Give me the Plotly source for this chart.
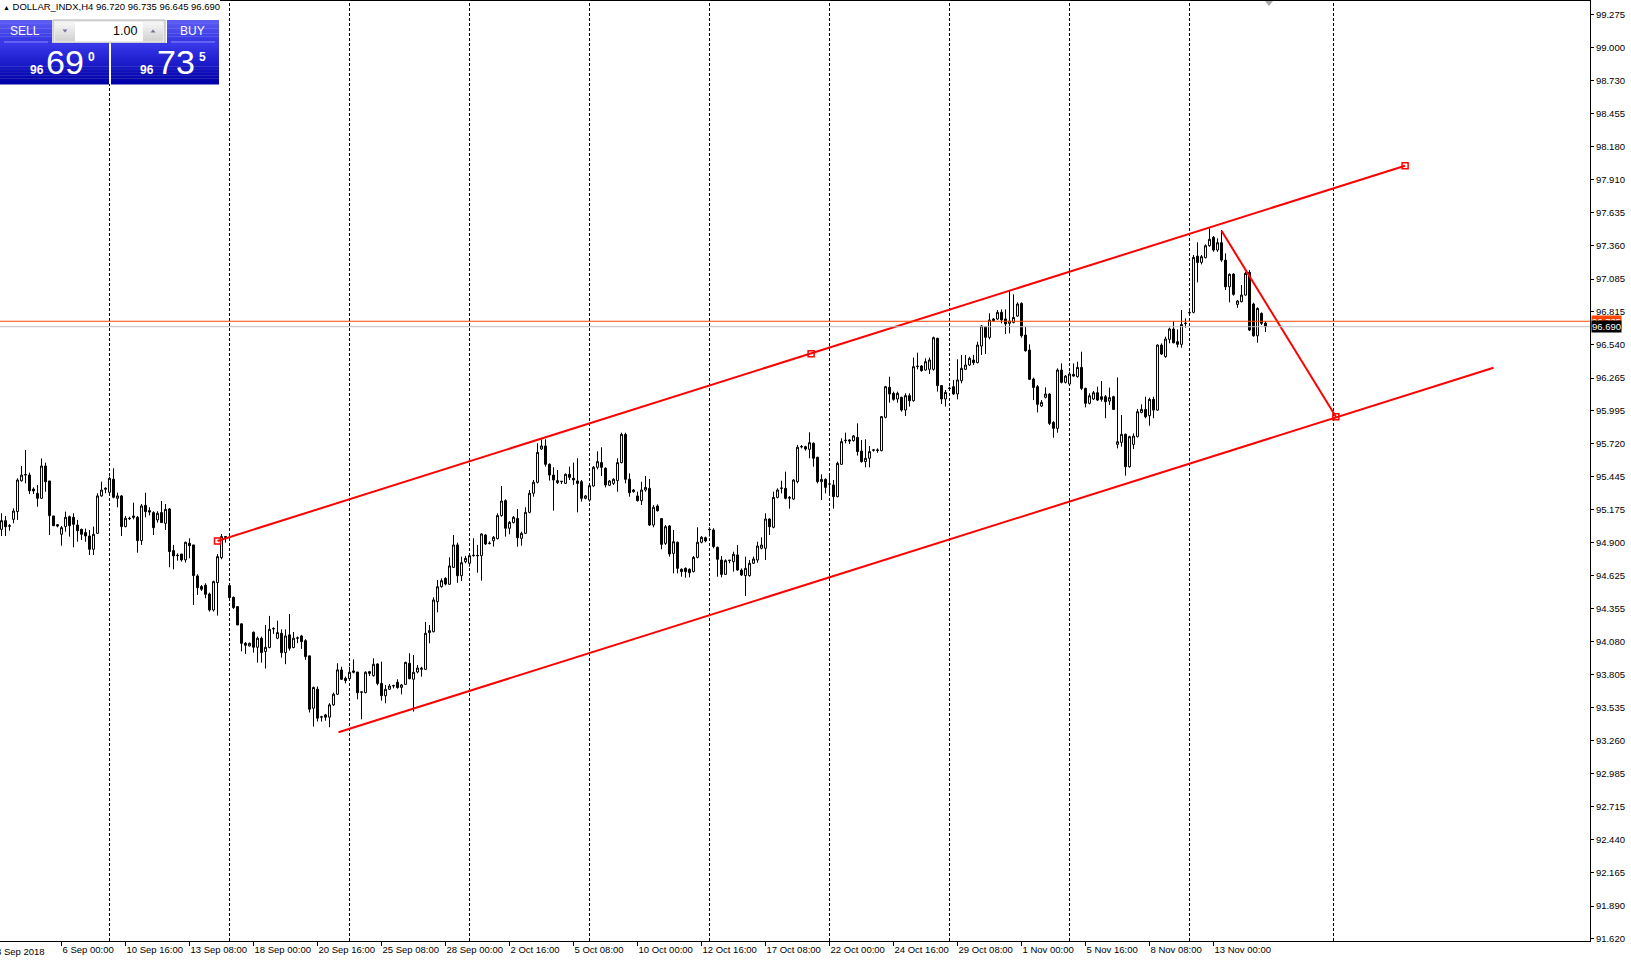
import plotly.graph_objects as go

# ---------------- data (DOLLAR_INDX, H4) ----------------
opens = [
    95.011, 95.083, 95.041, 95.094, 95.158, 95.414, 95.461, 95.461, 95.345, 95.310,
    95.268, 95.536, 95.412, 95.122, 95.050, 94.970, 95.034, 95.116, 95.111, 95.047,
    95.011, 94.984, 94.956, 94.846, 94.978, 95.288, 95.343, 95.318, 95.426, 95.268,
    95.288, 95.034, 95.103, 95.122, 95.111, 94.918, 95.210, 95.166, 95.150, 95.089,
    95.150, 95.061, 95.180, 94.835, 94.797, 94.807, 94.758, 94.896, 94.882, 94.625,
    94.537, 94.548, 94.476, 94.343, 94.570, 94.777, 94.951, 94.545, 94.448, 94.371,
    94.228, 94.067, 94.045, 94.159, 94.034, 94.109, 93.999, 94.032, 94.186, 94.109,
    94.150, 93.990, 94.137, 94.032, 94.109, 94.128, 94.089, 93.963, 93.529, 93.687,
    93.455, 93.474, 93.455, 93.557, 93.645, 93.846, 93.777, 93.774, 93.838, 93.829,
    93.661, 93.658, 93.832, 93.799, 93.896, 93.735, 93.633, 93.686, 93.713, 93.744,
    93.702, 93.727, 93.901, 93.769, 93.829, 93.851, 93.851, 94.155, 94.163, 94.412,
    94.536, 94.605, 94.556, 94.696, 94.882, 94.627, 94.743, 94.730, 94.793, 94.796,
    94.793, 94.964, 94.893, 94.917, 94.934, 95.125, 95.249, 95.020, 95.067, 95.102,
    94.937, 94.978, 95.152, 95.310, 95.401, 95.677, 95.702, 95.550, 95.461, 95.398,
    95.406, 95.392, 95.467, 95.434, 95.412, 95.406, 95.268, 95.254, 95.370, 95.525,
    95.564, 95.517, 95.376, 95.392, 95.415, 95.564, 95.798, 95.426, 95.323, 95.288,
    95.249, 95.337, 95.351, 95.047, 95.205, 95.100, 94.895, 95.039, 94.812, 94.904,
    94.680, 94.688, 94.680, 94.661, 94.779, 94.904, 94.942, 95.008, 95.006, 94.862,
    94.757, 94.638, 94.752, 94.743, 94.799, 94.674, 94.628, 94.628, 94.730, 94.757,
    94.854, 94.854, 95.097, 95.028, 95.276, 95.351, 95.351, 95.276, 95.262, 95.406,
    95.694, 95.696, 95.674, 95.724, 95.608, 95.406, 95.425, 95.387, 95.379, 95.282,
    95.550, 95.746, 95.752, 95.746, 95.773, 95.660, 95.572, 95.600, 95.667, 95.669,
    95.663, 95.939, 96.188, 96.138, 96.091, 96.105, 96.000, 96.119, 96.077, 96.359,
    96.365, 96.331, 96.337, 96.337, 96.594, 96.202, 96.091, 96.177, 96.193, 96.133,
    96.243, 96.337, 96.373, 96.414, 96.392, 96.530, 96.690, 96.602, 96.754, 96.754,
    96.809, 96.754, 96.718, 96.726, 96.778, 96.883, 96.621, 96.497, 96.256, 96.193,
    96.033, 96.105, 96.132, 95.897, 95.848, 96.331, 96.229, 96.215, 96.295, 96.276,
    96.353, 96.179, 96.055, 96.091, 96.143, 96.110, 96.110, 96.074, 96.110, 95.715,
    95.732, 95.798, 95.530, 95.715, 95.779, 95.980, 96.005, 95.953, 96.088, 95.999,
    96.538, 96.442, 96.585, 96.671, 96.566, 96.544, 96.715, 96.806, 96.809, 97.275,
    97.223, 97.262, 97.361, 97.430, 97.325, 97.386, 97.242, 97.021, 97.126, 96.875,
    96.897, 96.952, 97.140, 96.878, 96.615, 96.800, 96.720,
]
highs = [
    95.144, 95.122, 95.055, 95.185, 95.434, 95.536, 95.668, 95.481, 95.359, 95.378,
    95.599, 95.564, 95.412, 95.122, 95.055, 95.039, 95.158, 95.125, 95.144, 95.089,
    95.017, 95.017, 95.006, 95.034, 95.310, 95.406, 95.359, 95.448, 95.517, 95.315,
    95.296, 95.122, 95.116, 95.232, 95.122, 95.221, 95.315, 95.194, 95.161, 95.161,
    95.246, 95.221, 95.188, 94.882, 94.813, 94.807, 94.909, 94.937, 94.882, 94.639,
    94.550, 94.564, 94.487, 94.586, 94.807, 94.973, 94.956, 94.564, 94.454, 94.371,
    94.233, 94.078, 94.073, 94.164, 94.123, 94.123, 94.219, 94.294, 94.200, 94.255,
    94.183, 94.183, 94.310, 94.161, 94.123, 94.137, 94.101, 93.963, 93.709, 93.709,
    93.466, 93.482, 93.571, 93.659, 93.902, 93.873, 93.791, 93.873, 93.934, 93.829,
    93.664, 93.835, 93.838, 93.943, 93.901, 93.915, 93.722, 93.730, 93.724, 93.769,
    93.730, 93.915, 93.984, 93.970, 93.887, 93.873, 94.244, 94.219, 94.448, 94.592,
    94.605, 94.614, 94.779, 94.964, 94.901, 94.785, 94.790, 94.812, 94.937, 94.882,
    94.978, 94.973, 94.912, 94.956, 95.144, 95.370, 95.260, 95.080, 95.122, 95.180,
    94.992, 95.194, 95.337, 95.420, 95.724, 95.757, 95.757, 95.558, 95.525, 95.503,
    95.412, 95.475, 95.531, 95.564, 95.600, 95.420, 95.296, 95.384, 95.536, 95.658,
    95.691, 95.525, 95.420, 95.434, 95.600, 95.812, 95.812, 95.475, 95.345, 95.323,
    95.406, 95.453, 95.428, 95.213, 95.218, 95.105, 95.047, 95.047, 95.006, 94.909,
    94.688, 94.696, 94.688, 94.790, 95.028, 94.956, 94.951, 95.028, 95.020, 94.868,
    94.790, 94.763, 94.757, 94.826, 94.881, 94.688, 94.785, 94.757, 94.785, 94.909,
    94.945, 95.144, 95.102, 95.323, 95.351, 95.414, 95.489, 95.287, 95.426, 95.710,
    95.710, 95.704, 95.815, 95.732, 95.613, 95.467, 95.434, 95.467, 95.420, 95.572,
    95.765, 95.812, 95.757, 95.793, 95.889, 95.751, 95.757, 95.702, 95.674, 95.682,
    95.950, 96.199, 96.276, 96.152, 96.152, 96.110, 96.138, 96.138, 96.434, 96.475,
    96.373, 96.428, 96.434, 96.608, 96.599, 96.207, 96.166, 96.193, 96.249, 96.420,
    96.456, 96.456, 96.442, 96.456, 96.566, 96.704, 96.696, 96.801, 96.762, 96.828,
    96.834, 96.834, 96.994, 96.958, 96.892, 96.892, 96.690, 96.544, 96.268, 96.207,
    96.082, 96.187, 96.138, 95.908, 96.345, 96.386, 96.290, 96.317, 96.386, 96.400,
    96.483, 96.185, 96.138, 96.157, 96.193, 96.240, 96.124, 96.185, 96.118, 96.270,
    95.958, 95.806, 95.787, 95.806, 96.008, 96.047, 96.110, 96.102, 96.110, 96.544,
    96.552, 96.607, 96.682, 96.737, 96.668, 96.828, 96.759, 96.820, 97.284, 97.389,
    97.284, 97.372, 97.505, 97.441, 97.422, 97.491, 97.298, 97.132, 97.132, 96.911,
    97.035, 97.146, 97.159, 96.889, 96.850, 96.809, 96.735,
]
lows = [
    94.956, 94.956, 95.000, 95.061, 95.089, 95.406, 95.392, 95.304, 95.304, 95.199,
    95.268, 95.323, 94.964, 95.041, 95.028, 94.876, 94.992, 94.951, 94.862, 94.909,
    94.923, 94.909, 94.799, 94.799, 94.973, 95.282, 95.310, 95.310, 95.268, 95.194,
    94.956, 95.028, 95.089, 95.094, 94.818, 94.882, 95.111, 95.127, 94.964, 95.067,
    95.067, 95.006, 94.697, 94.680, 94.752, 94.744, 94.736, 94.771, 94.385, 94.468,
    94.501, 94.440, 94.330, 94.330, 94.297, 94.763, 94.901, 94.440, 94.352, 94.219,
    94.000, 93.979, 94.040, 93.990, 93.907, 93.907, 93.858, 94.026, 94.145, 94.101,
    93.949, 93.894, 94.007, 94.026, 94.068, 94.021, 93.930, 93.494, 93.377, 93.419,
    93.419, 93.425, 93.372, 93.549, 93.640, 93.763, 93.735, 93.769, 93.818, 93.603,
    93.437, 93.653, 93.796, 93.791, 93.719, 93.592, 93.570, 93.680, 93.694, 93.691,
    93.644, 93.722, 93.769, 93.501, 93.818, 93.791, 93.846, 94.067, 94.158, 94.324,
    94.528, 94.547, 94.550, 94.691, 94.569, 94.583, 94.730, 94.702, 94.785, 94.652,
    94.586, 94.882, 94.887, 94.868, 94.928, 95.116, 94.951, 94.970, 95.061, 94.868,
    94.876, 94.973, 95.144, 95.282, 95.392, 95.669, 95.531, 95.415, 95.166, 95.387,
    95.387, 95.387, 95.420, 95.379, 95.152, 95.241, 95.260, 95.241, 95.365, 95.508,
    95.453, 95.359, 95.370, 95.379, 95.323, 95.558, 95.392, 95.282, 95.315, 95.241,
    95.213, 95.323, 95.039, 95.028, 95.158, 94.846, 94.882, 94.785, 94.647, 94.647,
    94.619, 94.611, 94.614, 94.655, 94.771, 94.895, 94.904, 94.951, 94.854, 94.619,
    94.614, 94.633, 94.730, 94.661, 94.669, 94.625, 94.459, 94.619, 94.724, 94.735,
    94.846, 94.757, 94.964, 95.020, 95.268, 95.309, 95.260, 95.182, 95.254, 95.392,
    95.682, 95.663, 95.600, 95.530, 95.392, 95.254, 95.309, 95.309, 95.182, 95.276,
    95.544, 95.724, 95.718, 95.738, 95.622, 95.564, 95.525, 95.525, 95.655, 95.646,
    95.658, 95.931, 96.061, 96.077, 96.061, 95.986, 95.950, 96.028, 96.069, 96.337,
    96.318, 96.326, 96.298, 96.326, 96.152, 96.050, 96.028, 96.166, 96.124, 96.088,
    96.221, 96.331, 96.365, 96.373, 96.387, 96.456, 96.464, 96.585, 96.732, 96.746,
    96.718, 96.630, 96.635, 96.718, 96.773, 96.599, 96.483, 96.248, 96.082, 95.980,
    96.024, 96.096, 95.875, 95.770, 95.812, 96.220, 96.220, 96.207, 96.276, 96.268,
    96.165, 96.022, 96.047, 96.082, 96.074, 96.069, 95.931, 96.041, 96.000, 95.682,
    95.696, 95.456, 95.522, 95.676, 95.773, 95.972, 95.931, 95.870, 95.931, 95.994,
    96.455, 96.433, 96.552, 96.552, 96.519, 96.516, 96.682, 96.792, 96.800, 97.057,
    97.206, 97.256, 97.353, 97.311, 97.311, 97.228, 96.994, 96.892, 96.947, 96.847,
    96.892, 96.947, 96.654, 96.607, 96.557, 96.704, 96.645,
]
closes = [
    95.083, 95.033, 95.038, 95.163, 95.420, 95.461, 95.465, 95.331, 95.329, 95.268,
    95.536, 95.406, 95.125, 95.041, 95.039, 95.025, 95.111, 95.042, 95.053, 95.000,
    94.970, 94.956, 94.846, 94.970, 95.288, 95.337, 95.351, 95.434, 95.277, 95.288,
    95.034, 95.103, 95.100, 95.111, 94.918, 95.205, 95.158, 95.155, 95.025, 95.144,
    95.067, 95.177, 94.827, 94.791, 94.794, 94.758, 94.904, 94.876, 94.628, 94.528,
    94.515, 94.473, 94.343, 94.578, 94.785, 94.951, 94.945, 94.446, 94.363, 94.219,
    94.067, 94.051, 94.067, 94.034, 94.109, 93.990, 94.034, 94.183, 94.189, 94.156,
    93.990, 94.128, 94.026, 94.109, 94.112, 94.081, 93.957, 93.521, 93.701, 93.447,
    93.458, 93.455, 93.557, 93.645, 93.847, 93.769, 93.758, 93.827, 93.827, 93.658,
    93.664, 93.827, 93.818, 93.893, 93.735, 93.633, 93.686, 93.713, 93.716, 93.700,
    93.722, 93.909, 93.774, 93.827, 93.862, 93.860, 94.150, 94.172, 94.426, 94.536,
    94.586, 94.558, 94.708, 94.882, 94.627, 94.735, 94.771, 94.793, 94.796, 94.793,
    94.973, 94.890, 94.896, 94.945, 95.125, 95.246, 95.020, 95.069, 95.111, 94.942,
    94.978, 95.152, 95.310, 95.401, 95.649, 95.702, 95.550, 95.461, 95.420, 95.415,
    95.409, 95.467, 95.442, 95.420, 95.392, 95.268, 95.288, 95.373, 95.525, 95.572,
    95.525, 95.379, 95.412, 95.426, 95.564, 95.798, 95.426, 95.315, 95.337, 95.249,
    95.337, 95.359, 95.047, 95.194, 95.166, 94.887, 95.033, 94.807, 94.909, 94.688,
    94.661, 94.661, 94.652, 94.779, 94.904, 94.945, 94.915, 95.011, 94.868, 94.763,
    94.638, 94.752, 94.755, 94.804, 94.674, 94.633, 94.688, 94.730, 94.765, 94.873,
    94.881, 95.097, 95.033, 95.276, 95.337, 95.353, 95.268, 95.270, 95.420, 95.691,
    95.697, 95.677, 95.729, 95.600, 95.406, 95.425, 95.359, 95.387, 95.282, 95.558,
    95.738, 95.749, 95.743, 95.785, 95.655, 95.572, 95.600, 95.655, 95.669, 95.666,
    95.945, 96.193, 96.133, 96.088, 96.138, 96.000, 96.119, 96.077, 96.359, 96.362,
    96.326, 96.400, 96.414, 96.599, 96.202, 96.091, 96.146, 96.180, 96.133, 96.249,
    96.345, 96.373, 96.428, 96.392, 96.538, 96.696, 96.602, 96.746, 96.740, 96.809,
    96.746, 96.713, 96.737, 96.767, 96.878, 96.615, 96.491, 96.254, 96.187, 96.047,
    96.063, 96.132, 95.889, 95.848, 96.331, 96.229, 96.281, 96.298, 96.281, 96.353,
    96.179, 96.055, 96.118, 96.143, 96.082, 96.088, 96.069, 96.102, 96.005, 95.737,
    95.798, 95.530, 95.779, 95.784, 95.986, 96.005, 95.944, 96.088, 95.999, 96.538,
    96.464, 96.588, 96.671, 96.557, 96.544, 96.709, 96.718, 96.806, 97.264, 97.223,
    97.270, 97.361, 97.414, 97.325, 97.386, 97.242, 97.021, 97.124, 96.958, 96.903,
    96.952, 97.132, 96.662, 96.615, 96.842, 96.718, 96.690,
]
assert len(opens) == len(highs) == len(lows) == len(closes)
bars = list(range(len(closes)))

# bar index -> time label on the time scale
date_tick_bars = [15, 31, 47, 63, 79, 95, 111, 127, 143, 159, 175, 191, 207, 223, 239, 255, 271, 287, 303]
date_tick_labels = ["6 Sep 00:00", "10 Sep 16:00", "13 Sep 08:00", "18 Sep 00:00", "20 Sep 16:00",
                    "25 Sep 08:00", "28 Sep 00:00", "2 Oct 16:00", "5 Oct 08:00", "10 Oct 00:00",
                    "12 Oct 16:00", "17 Oct 08:00", "22 Oct 00:00", "24 Oct 16:00", "29 Oct 08:00",
                    "1 Nov 00:00", "5 Nov 16:00", "8 Nov 08:00", "13 Nov 00:00"]
first_date_label = "3 Sep 2018"
week_grid_bars = [27, 57, 87, 117, 147, 177, 207, 237, 267, 297, 333]

price_tick_labels = ["99.275", "99.000", "98.730", "98.455", "98.180", "97.910", "97.635", "97.360",
                     "97.085", "96.815", "96.540", "96.265", "95.995", "95.720", "95.445", "95.175",
                     "94.900", "94.625", "94.355", "94.080", "93.805", "93.535", "93.260", "92.985",
                     "92.715", "92.440", "92.165", "91.890", "91.620"]

# drawn objects (bar index, price)
channel_top_x = [54, 202.4, 350.9]
channel_top_y = [94.915, 96.467, 98.024]
channel_bot_x = [84.25, 373.0]
channel_bot_y = [93.33, 96.35]
trend_x = [305, 333.6]
trend_y = [97.485, 95.944]

bid_price = 96.690
ask_price = 96.735
symbol_header = "DOLLAR_INDX,H4 96.720 96.735 96.645 96.690"

# ---------------- layout helpers ----------------
PLOT_W, PLOT_H, TOP = 1590, 940, 1
FONT = "Liberation Sans"


def px(x):
    return x / PLOT_W


def py(y):
    return 1 - (y - TOP) / PLOT_H


def mix(c1, c2, t):
    a = [int(c1[i:i + 2], 16) for i in (1, 3, 5)]
    b = [int(c2[i:i + 2], 16) for i in (1, 3, 5)]
    return "#" + "".join(f"{round(a[k] + (b[k] - a[k]) * t):02x}" for k in range(3))


shapes = []


def rect(x0, y0, x1, y1, fill, line=None):
    shapes.append(dict(type="rect", xref="paper", yref="paper", layer="above",
                       x0=px(x0), x1=px(x1), y0=py(y1), y1=py(y0), fillcolor=fill,
                       line=dict(width=1 if line else 0, color=line or fill)))


def grad_box(x0, y0, x1, y1, c_top, c_bot, steps=14):
    h = (y1 - y0) / steps
    for k in range(steps):
        rect(x0, y0 + k * h, x1, y0 + (k + 1) * h + 0.4, mix(c_top, c_bot, k / (steps - 1)))


def tri(cx, cy, w, h, color, up=True):
    if up:
        p = f"M {px(cx - w / 2)},{py(cy + h / 2)} L {px(cx + w / 2)},{py(cy + h / 2)} L {px(cx)},{py(cy - h / 2)} Z"
    else:
        p = f"M {px(cx - w / 2)},{py(cy - h / 2)} L {px(cx + w / 2)},{py(cy - h / 2)} L {px(cx)},{py(cy + h / 2)} Z"
    shapes.append(dict(type="path", xref="paper", yref="paper", layer="above", path=p,
                       fillcolor=color, line=dict(width=0)))


annotations = []


def text(x, y, s, size, color="black", anchor="center", bold=False, **kw):
    annotations.append(dict(xref="paper", yref="paper", x=px(x), y=py(y), text=f"<b>{s}</b>" if bold else s,
                            showarrow=False, xanchor=anchor, yanchor="middle",
                            font=dict(family=FONT, size=size, color=color), **kw))


# ---------------- figure ----------------
fig = go.Figure()

fig.add_trace(go.Candlestick(
    x=bars, open=opens, high=highs, low=lows, close=closes,
    increasing=dict(fillcolor="white", line=dict(color="black", width=1)),
    decreasing=dict(fillcolor="black", line=dict(color="black", width=1)),
    whiskerwidth=0, showlegend=False, hoverinfo="skip",
))

# equidistant channel and trend line
fig.add_trace(go.Scatter(x=[channel_top_x[0], channel_top_x[-1]], y=[channel_top_y[0], channel_top_y[-1]],
                         mode="lines", line=dict(color="#ff0000", width=2), showlegend=False, hoverinfo="skip"))
fig.add_trace(go.Scatter(x=channel_bot_x, y=channel_bot_y, mode="lines",
                         line=dict(color="#ff0000", width=2), showlegend=False, hoverinfo="skip"))
fig.add_trace(go.Scatter(x=trend_x, y=trend_y, mode="lines",
                         line=dict(color="#ff0000", width=2), showlegend=False, hoverinfo="skip"))
fig.add_trace(go.Scatter(x=channel_top_x + [trend_x[-1]], y=channel_top_y + [trend_y[-1]], mode="markers",
                         marker=dict(symbol="square-open", size=6, color="#ff0000", line=dict(width=1.5)),
                         showlegend=False, hoverinfo="skip"))

# weekly grid
for b in week_grid_bars:
    fig.add_vline(x=b, line=dict(color="black", width=1, dash="3px,2px"), layer="below")

# bid / ask lines
fig.add_hline(y=ask_price, line=dict(color="#ff4500", width=1))
fig.add_hline(y=bid_price, line=dict(color="#c0c0c0", width=1))

# header + one click trading panel
rect(0, 0, 220, 84, "white")
text(1, 7, f"<span style='font-size:7px'>▲</span> {symbol_header}", 9.5, anchor="left")

grad_box(0, 20, 52, 43, "#5c5cf4", "#3434e2")
grad_box(167, 20, 219, 43, "#5c5cf4", "#3434e2")
rect(4, 41.5, 48, 42.5, "#8c8cff")
rect(171, 41.5, 215, 42.5, "#8c8cff")
text(25, 31, "SELL", 12, "white")
text(192, 31, "BUY", 12, "white")

rect(53, 20, 165, 43, "#ececec", "#b0b0b0")
grad_box(55, 22, 75, 41, "#f4f4f4", "#d4d4d4", steps=6)
rect(75, 22, 143, 41, "white")
grad_box(143, 22, 163, 41, "#f4f4f4", "#d4d4d4", steps=6)
tri(65, 31, 5, 3, "#7070a0", up=False)
tri(153, 31, 5, 3, "#7070a0", up=True)
text(139, 31, "1.00", 12.5, anchor="right")

grad_box(0, 43, 109, 84, "#3838ea", "#0000a8")
grad_box(111, 43, 219, 84, "#3838ea", "#0000a8")
text(37, 70, "96", 12, "white", bold=True)
text(65, 62, "69", 34, "white")
text(91, 57, "0", 12, "white", bold=True)
text(147, 70, "96", 12, "white", bold=True)
text(176, 62, "73", 34, "white")
text(202, 57, "5", 12, "white", bold=True)

# chart shift marker
tri(1269, 3.5, 8, 5, "#a8a8a8", up=False)

# first (cut) date label
annotations.append(dict(xref="paper", yref="paper", x=px(-6), y=0, yshift=-10, text=first_date_label,
                        showarrow=False, xanchor="left", yanchor="middle",
                        font=dict(family=FONT, size=9.5, color="black")))

# current price labels on the price scale
for price, bg in ((ask_price, "#ff4500"), (bid_price, "black")):
    annotations.append(dict(xref="paper", yref="y", x=1, y=price, xshift=1, text=f"{price:.3f}",
                            showarrow=False, xanchor="left", yanchor="middle", bgcolor=bg,
                            borderpad=0, font=dict(family=FONT, size=9.5, color="white")))

fig.update_layout(
    width=1631, height=961,
    margin=dict(l=0, r=41, t=TOP, b=20, autoexpand=False),
    paper_bgcolor="white", plot_bgcolor="white",
    shapes=list(fig.layout.shapes) + shapes,
    annotations=annotations,
    showlegend=False,
    xaxis=dict(range=[-0.375, 397.125], tickvals=date_tick_bars, ticktext=date_tick_labels,
               tickangle=0, automargin=False,
               ticks="outside", ticklen=4, tickcolor="black", ticklabelposition="outside right",
               showgrid=False, zeroline=False, showline=True, linecolor="black", linewidth=1,
               mirror=True, rangeslider=dict(visible=False),
               tickfont=dict(family=FONT, size=9.5, color="black")),
    yaxis=dict(range=[91.6006, 99.3885], side="right", automargin=False,
               tickvals=[float(v) for v in price_tick_labels], ticktext=price_tick_labels,
               ticks="outside", ticklen=3, tickcolor="black",
               showgrid=False, zeroline=False, showline=True, linecolor="black", linewidth=1,
               tickfont=dict(family=FONT, size=9.5, color="black")),
)

fig.write_html("out.html", config={"displayModeBar": False},
               post_script="document.body.style.margin='0';")
